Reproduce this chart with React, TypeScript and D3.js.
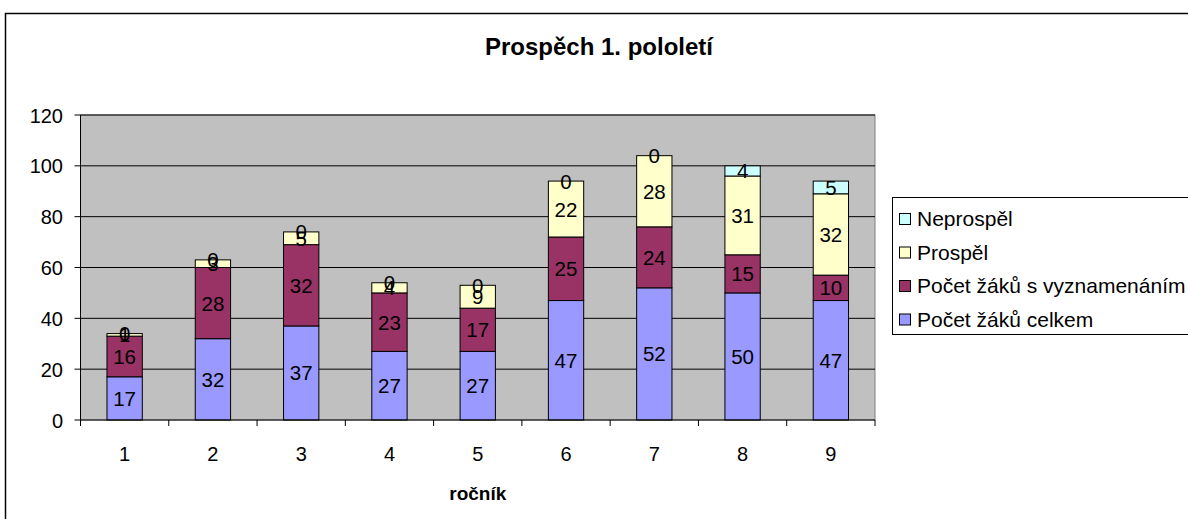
import React from "react";
import * as d3 from "d3";

const categories = ["1", "2", "3", "4", "5", "6", "7", "8", "9"];
const celkem = [17, 32, 37, 27, 27, 47, 52, 50, 47];
const vyznamenani = [16, 28, 32, 23, 17, 25, 24, 15, 10];
const prospel = [1, 3, 5, 4, 9, 22, 28, 31, 32];
const neprospel = [0, 0, 0, 0, 0, 0, 0, 4, 5];
const seriesNames = ["Počet žáků celkem", "Počet žáků s vyznamenáním", "Prospěl", "Neprospěl"];
const seriesColors = ["#9999FF", "#993366", "#FFFFCC", "#CCFFFF"];
const yTicks = [0, 20, 40, 60, 80, 100, 120];

const FONT = "'Liberation Sans', Arial, sans-serif";

export default function App() {
  const W = 1188, H = 519;
  const left = 80.5, right = 875, top = 115, bottom = 420;
  const x = d3.scaleBand().domain(categories).range([left, right]).paddingInner(0.6).paddingOuter(0.3);
  const xb = d3.scaleBand().domain(categories).range([left, right]);
  const y = d3.scaleLinear().domain([0, 120]).range([bottom, top]);

  const rows = categories.map((c, i) => ({
    cat: c,
    s0: celkem[i],
    s1: vyznamenani[i],
    s2: prospel[i],
    s3: neprospel[i],
  }));
  const keys = ["s0", "s1", "s2", "s3"];
  const stacked = d3.stack<any>().keys(keys)(rows);

  const legendItems = [3, 2, 1, 0];

  return (
    <svg width={W} height={H} style={{ position: "fixed", left: 0, top: 0 }} fontFamily={FONT}>
      <rect x={0} y={0} width={W} height={H} fill="#fff" />
      <rect x={5.5} y={13.5} width={W + 20} height={H + 20} fill="none" stroke="#000" strokeWidth={1.5} />
      <text x={599} y={55} textAnchor="middle" fontSize={24} fontWeight="bold">Prospěch 1. pololetí</text>

      <rect x={left} y={top} width={right - left} height={bottom - top} fill="#C0C0C0" stroke="#808080" />
      {yTicks.map((t) => (
        <g key={t}>
          {t > 0 && <line x1={left} x2={right} y1={y(t)} y2={y(t)} stroke="#000" strokeWidth={1} />}
          <line x1={left - 6} x2={left} y1={y(t)} y2={y(t)} stroke="#000" />
          <text x={63} y={y(t) + 7.5} textAnchor="end" fontSize={20}>{t}</text>
        </g>
      ))}

      {stacked.map((layer, si) => (
        <g key={si}>
          {layer.map((d, i) => {
            const x0 = x(categories[i])!;
            const h = y(d[0]) - y(d[1]);
            return (
              <rect key={i} x={x0} y={y(d[1])} width={x.bandwidth()} height={h}
                fill={seriesColors[si]} stroke="#000" strokeWidth={1} />
            );
          })}
        </g>
      ))}
      {stacked.map((layer, si) => (
        <g key={"l" + si}>
          {layer.map((d, i) => {
            const cx = x(categories[i])! + x.bandwidth() / 2;
            const cy = y((d[0] + d[1]) / 2);
            return (
              <text key={i} x={cx} y={cy + 7.5} textAnchor="middle" fontSize={20.5}>{d[1] - d[0]}</text>
            );
          })}
        </g>
      ))}

      <line x1={left} x2={left} y1={top} y2={bottom} stroke="#000" />
      <line x1={left} x2={right} y1={bottom} y2={bottom} stroke="#000" />
      {categories.map((c) => (
        <line key={"t" + c} x1={xb(c)!} x2={xb(c)!} y1={bottom} y2={bottom + 6} stroke="#000" />
      ))}
      <line x1={right} x2={right} y1={bottom} y2={bottom + 6} stroke="#000" />
      {categories.map((c) => (
        <text key={"x" + c} x={xb(c)! + xb.bandwidth() / 2} y={461} textAnchor="middle" fontSize={20}>{c}</text>
      ))}
      <text x={(left + right) / 2} y={500} textAnchor="middle" fontSize={19} fontWeight="bold">ročník</text>

      <rect x={892.5} y={197.5} width={320} height={137} fill="#fff" stroke="#000" />
      {legendItems.map((si, k) => (
        <g key={"lg" + si}>
          <rect x={899.5} y={213.5 + k * 33.5} width={11} height={11} fill={seriesColors[si]} stroke="#000" />
          <text x={917} y={226 + k * 33.5} fontSize={21}>{seriesNames[si]}</text>
        </g>
      ))}
    </svg>
  );
}
